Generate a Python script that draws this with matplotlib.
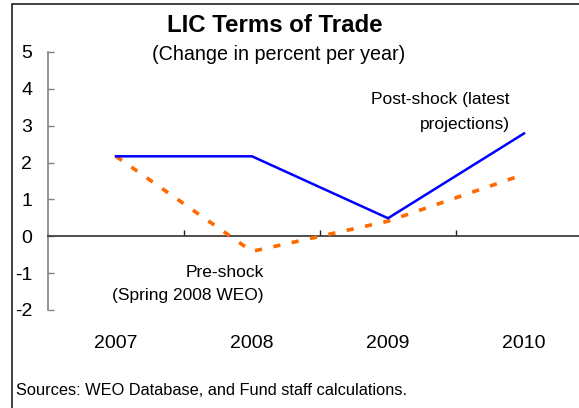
import matplotlib
matplotlib.use("Agg")
import matplotlib.pyplot as plt
from matplotlib.patches import Rectangle
import numpy as np

plt.rcParams['font.family'] = ['Liberation Sans', 'DejaVu Sans']

years = ["2007", "2008", "2009", "2010"]
pre_shock = [2.17, -0.41, 0.41, 1.68]
post_shock = [2.17, 2.17, 0.49, 2.79]
y_ticks = [-2, -1, 0, 1, 2, 3, 4, 5]

W, H = 579, 408
fig = plt.figure(figsize=(W / 100, H / 100), dpi=100)

# axes: x from 48px to 592px, y from 52px (5) to 310px (-2)
ax = fig.add_axes([48 / W, (H - 310) / H, 544 / W, 258 / H])
ax.set_xlim(-0.5, 3.5)
ax.set_ylim(-2, 5)
ax.patch.set_alpha(0)

x = np.arange(len(years))

ax.plot(x, pre_shock, color='#FF6A00', linewidth=2.6,
        linestyle=(0, (2.0, 3.2)), dash_capstyle='butt', zorder=3)
ax.plot(x, post_shock, color='#0000FF', linewidth=1.8, zorder=4,
        solid_joinstyle='miter')

# spines
for s in ['top', 'right']:
    ax.spines[s].set_visible(False)
ax.spines['bottom'].set_position(('data', 0))
ax.spines['bottom'].set_color('#404040')
ax.spines['bottom'].set_linewidth(1.3)
ax.spines['left'].set_color('#808080')
ax.spines['left'].set_linewidth(1.2)

ax.set_yticks(y_ticks)
ax.set_yticklabels([str(v) for v in y_ticks], fontsize=14)
ax.tick_params(axis='y', direction='in', length=4, width=1, color='#808080',
               pad=11.5)

ax.set_xticks([])
ax.set_xticks(x[:-1] + 0.5, minor=True)
ax.tick_params(axis='x', which='minor', direction='in', length=4.5, width=1,
               color='#202020')
ax.tick_params(axis='x', which='major', length=0, labelbottom=False)

for xi, lab in zip(x, years):
    ax.text(xi, -3.03, lab, ha='center', va='baseline', fontsize=14,
            clip_on=False)

# annotations
ax.text(2.897, 3.59, "Post-shock (latest", ha='right', va='baseline',
        fontsize=12.5)
ax.text(2.897, 2.91, "projections)", ha='right', va='baseline', fontsize=12.5)
ax.text(1.088, -1.11, "Pre-shock", ha='right', va='baseline', fontsize=12.5)
ax.text(1.088, -1.72, "(Spring 2008 WEO)", ha='right', va='baseline',
        fontsize=12.5)

# titles
fig.text(275 / W, 1 - 32 / H, "LIC Terms of Trade", ha='center',
         va='baseline', fontsize=17.3, fontweight='bold')
fig.text(279 / W, 1 - 59.5 / H, "(Change in percent per year)", ha='center',
         va='baseline', fontsize=14.2)

fig.text(16 / W, 1 - 395 / H, "Sources: WEO Database, and Fund staff calculations.",
         ha='left', va='baseline', fontsize=11.8)

# frame
frame = Rectangle((11.5 / W, -0.2), 1.0, 1.2 - 3.5 / H, transform=fig.transFigure,
                  fill=False, edgecolor='#202020', linewidth=1.2, clip_on=False)
fig.add_artist(frame)

fig.savefig("out.png", dpi=100)
